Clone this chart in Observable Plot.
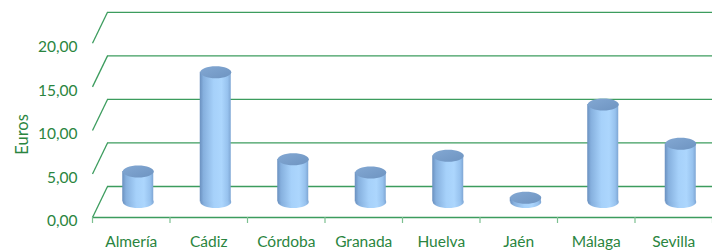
<!DOCTYPE html>
<html>
<head>
<meta charset="utf-8">
<script src="https://cdn.jsdelivr.net/npm/d3@7"></script>
<script src="https://cdn.jsdelivr.net/npm/@observablehq/plot@0.6"></script>
<style>
  html, body { margin: 0; padding: 0; background: #fff; }
  #chart svg { display: block; }
</style>
</head>
<body>
<div id="chart"></div>
<script>
// ---- data ----
const categories = ["Almería", "Cádiz", "Córdoba", "Granada", "Huelva", "Jaén", "Málaga", "Sevilla"];
const values = [3.5, 14.9, 4.9, 3.4, 5.3, 0.5, 11.2, 6.7];
const yTicks = [0, 5, 10, 15, 20];
const yLabel = "Euros";

// ---- styling / geometry constants ----
const W = 712, H = 252;
const mL = 92, mR = 0, mT = 8, mB = 35;
const yMax = 24;
const green = "#2a8540";
const gridGreen = "#3c9c5e";
const font = "Lato, 'Open Sans', sans-serif";
const depthX = 15, depthY = -31;      // back wall offset in px
const midX = 7, midY = -15.5;         // cylinder plane offset in px
const pxPerX = (W - mL - mR) / categories.length;
const pxPerY = (H - mB - mT) / yMax;
const DXu = depthX / pxPerX, DYu = -depthY / pxPerY;
const cylW = 31 / pxPerX;             // cylinder width in x units
const rx = 15.5, ry = 6;

const data = categories.map((c, i) => ({c, i, v: values[i]}));

const ellipse = {
  draw(ctx) {
    const k = 0.5523;
    ctx.moveTo(-rx, 0);
    ctx.bezierCurveTo(-rx, -ry * k, -rx * k, -ry, 0, -ry);
    ctx.bezierCurveTo(rx * k, -ry, rx, -ry * k, rx, 0);
    ctx.bezierCurveTo(rx, ry * k, rx * k, ry, 0, ry);
    ctx.bezierCurveTo(-rx * k, ry, -rx, ry * k, -rx, 0);
    ctx.closePath();
  }
};

const fmt = d => d.toFixed(2).replace(".", ",");

const chart = Plot.plot({
  width: W, height: H,
  marginLeft: mL, marginRight: mR, marginTop: mT, marginBottom: mB,
  style: {fontFamily: font, background: "#fff"},
  x: {type: "linear", domain: [0, categories.length], axis: null},
  y: {domain: [0, yMax], axis: null},
  marks: [
    // back wall gridlines
    Plot.ruleY(yTicks, {dx: depthX, dy: depthY, stroke: gridGreen, strokeWidth: 1.3}),
    // left-side diagonals
    Plot.link(yTicks, {x1: 0, y1: d => d, x2: DXu, y2: d => d + DYu, stroke: gridGreen, strokeWidth: 1.3}),
    // front floor edge
    Plot.ruleY([0], {stroke: gridGreen, strokeWidth: 1.3}),
    // category separator ticks
    Plot.axisX({ticks: d3.range(categories.length + 1), tickSize: 6, tickFormat: () => "", stroke: "#7cc090", strokeWidth: 1.2}),
    // y axis labels
    Plot.axisY({ticks: yTicks, tickSize: 0, tickPadding: 15, tickFormat: fmt, fill: green, fontSize: 15.5, dy: 4, label: null}),
    // y axis title
    Plot.text([yLabel], {x: 0, y: (yTicks[0] + yTicks[yTicks.length - 1]) / 2, dx: -70, dy: 4, rotate: -90, fill: green, fontSize: 16.5}),
    // cylinders: bottom ellipse
    Plot.dot(data, {x: d => d.i + 0.5, y: 0, dx: midX, dy: midY, symbol: ellipse, r: 1, fill: "url(#cylGrad)", stroke: "none"}),
    // body
    Plot.rect(data, {x1: d => d.i + 0.5 - cylW / 2, x2: d => d.i + 0.5 + cylW / 2, y1: 0, y2: d => d.v, dx: midX, dy: midY, fill: "url(#cylGrad)", inset: 0}),
    // top ellipse
    Plot.dot(data, {x: d => d.i + 0.5, y: d => d.v, dx: midX, dy: midY, symbol: ellipse, r: 1, fill: "url(#topGrad)", stroke: "none"}),
    // category labels
    Plot.text(data, {x: d => d.i + 0.5, y: 0, text: "c", dy: 25, fill: green, fontSize: 15.5})
  ]
});

const svg = d3.select(chart);
const defs = svg.insert("defs", ":first-child");
const g1 = defs.append("linearGradient").attr("id", "cylGrad").attr("x1", 0).attr("x2", 1).attr("y1", 0).attr("y2", 0);
[[0, "#6a90bf"], [0.12, "#86b0de"], [0.45, "#a6d1fa"], [0.7, "#acd6fd"], [0.9, "#97c2ee"], [1, "#7ea6d4"]]
  .forEach(([o, c]) => g1.append("stop").attr("offset", o).attr("stop-color", c));
const g2 = defs.append("linearGradient").attr("id", "topGrad").attr("x1", 0).attr("x2", 1).attr("y1", 0).attr("y2", 1);
[[0, "#83a8d3"], [1, "#6e94c1"]]
  .forEach(([o, c]) => g2.append("stop").attr("offset", o).attr("stop-color", c));

document.getElementById("chart").appendChild(chart);
</script>
</body>
</html>
